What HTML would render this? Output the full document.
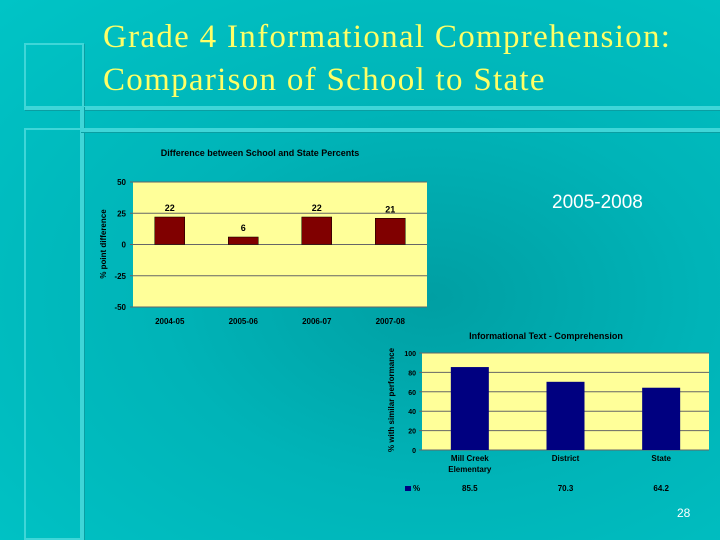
<!DOCTYPE html>
<html><head><meta charset="utf-8"><style>
html,body{margin:0;width:720px;height:540px;overflow:hidden}
body{background:radial-gradient(ellipse at 60% 55%,#009fa3 0%,#00b4b8 45%,#00c4c6 100%);font-family:"Liberation Sans",sans-serif;position:relative}
.fr{position:absolute;border:2px solid #3fd6d8;box-shadow:1px 1px 0 #0a9ea2}
.t{position:absolute;left:103px;top:16px;font-family:"Liberation Serif",serif;font-size:33px;line-height:43px;color:#ffff66;letter-spacing:1.3px}
</style></head><body>
<div class="fr" style="left:24px;top:43px;width:56px;height:63px"></div>
<div class="fr" style="left:24px;top:106px;width:694px;height:0"></div>
<div class="fr" style="left:80px;top:106px;width:0;height:430px"></div>
<div class="fr" style="left:24px;top:128px;width:56px;height:408px"></div>
<div class="fr" style="left:80px;top:128px;width:638px;height:0"></div>
<div class="t">Grade 4 Informational Comprehension:<br>Comparison of School to State</div>
<div style="position:absolute;left:552px;top:192px;font-size:19px;color:#fff">2005-2008</div>
<div style="position:absolute;left:677px;top:506px;font-size:12px;color:#fff">28</div>
<svg width="720" height="540" style="position:absolute;left:0;top:0" font-family="Liberation Sans, sans-serif" font-weight="bold">
<g id="c1"></g><g id="c2"></g>
</svg>
<script>
const cats1=["2004-05","2005-06","2006-07","2007-08"];
const vals1=[22,6,22,21];
const ticks1=[50,25,0,-25,-50];
const cats2=["Mill Creek|Elementary","District","State"];
const vals2=[85.5,70.3,64.2];
const ticks2=[100,80,60,40,20,0];
const NS="http://www.w3.org/2000/svg";
function el(p,t,a,txt){const e=document.createElementNS(NS,t);for(const k in a)e.setAttribute(k,a[k]);if(txt!==undefined)e.textContent=txt;p.appendChild(e);return e;}
// chart 1
const g1=document.getElementById('c1');
const X0=133,X1=427,Y0=182,Y1=307;
const y1=v=>Y0+(50-v)/100*(Y1-Y0);
const bw1=(X1-X0)/cats1.length;
let e=el(g1,'rect',{x:X0,y:Y0,width:X1-X0,height:Y1-Y0,fill:'#ffff99'});

e=el(g1,'text',{x:260,y:156,'font-size':9,'text-anchor':'middle',fill:'#000'},'Difference between School and State Percents');

e=el(g1,'text',{x:0,y:0,'font-size':8,'text-anchor':'middle',fill:'#000',transform:'translate(106,244) rotate(-90)'},'% point difference');

ticks1.forEach(t=>{const y=y1(t);
 e=el(g1,'line',{x1:X0-3,x2:X1,y1:y,y2:y,stroke:'#666','stroke-width':1});
 
 e=el(g1,'text',{x:126,y:y+3,'font-size':8,'text-anchor':'end',fill:'#000'},t);
 });
cats1.forEach((c,i)=>{const cx=X0+bw1*(i+.5),v=vals1[i];
 e=el(g1,'rect',{x:cx-15,y:y1(v),width:30,height:y1(0)-y1(v),fill:'#800000',stroke:'#000','stroke-width':.5});
 
 e=el(g1,'text',{x:cx,y:y1(v)-6,'font-size':9,'text-anchor':'middle',fill:'#000'},v);
 
 e=el(g1,'text',{x:cx,y:324,'font-size':8,'text-anchor':'middle',fill:'#000'},c);
 });
// chart 2
const g2=document.getElementById('c2');
const A0=422,A1=709,B0=353,B1=450;
const y2=v=>B1-v/100*(B1-B0);
const bw2=(A1-A0)/cats2.length;
e=el(g2,'rect',{x:A0,y:B0,width:A1-A0,height:B1-B0,fill:'#ffff99'});

e=el(g2,'text',{x:546,y:339,'font-size':9,'text-anchor':'middle',fill:'#000'},'Informational Text - Comprehension');

e=el(g2,'text',{x:0,y:0,'font-size':8,'text-anchor':'middle',fill:'#000',transform:'translate(394,400) rotate(-90)'},'% with similar performance');

ticks2.forEach(t=>{const y=y2(t);
 e=el(g2,'line',{x1:A0-3,x2:A1,y1:y,y2:y,stroke:'#666','stroke-width':1});
 
 e=el(g2,'text',{x:416,y:y+3,'font-size':7,'text-anchor':'end',fill:'#000'},t);
 });
cats2.forEach((c,i)=>{const cx=A0+bw2*(i+.5),v=vals2[i];
 e=el(g2,'rect',{x:cx-19,y:y2(v),width:38,height:y2(0)-y2(v),fill:'#000080'});
 
 c.split('|').forEach((s,j)=>{e=el(g2,'text',{x:cx,y:461+j*11,'font-size':8,'text-anchor':'middle',fill:'#000'},s);
 });
 e=el(g2,'text',{x:cx,y:491,'font-size':8,'text-anchor':'middle',fill:'#000'},v.toFixed(1));
 });
e=el(g2,'rect',{x:405,y:486,width:6,height:5,fill:'#000080'});

e=el(g2,'text',{x:413,y:491,'font-size':8,fill:'#000'},'%');

</script>
</body></html>
